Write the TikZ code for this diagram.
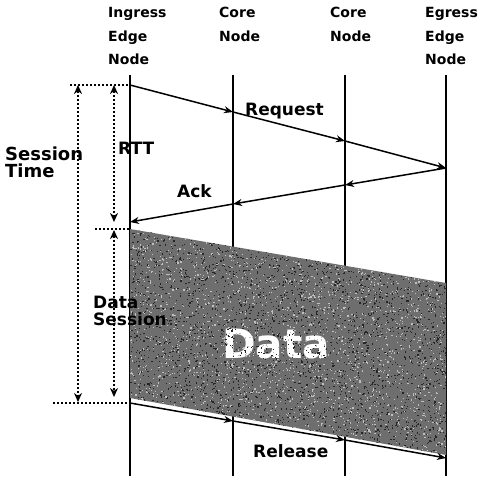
\documentclass[tikz,border=0pt]{standalone}
\usepackage{fontspec}
\setmainfont{DejaVu Sans}
\usetikzlibrary{arrows.meta}
\begin{document}
\begin{tikzpicture}[x=1pt,y=-1pt,
  hdr/.style={font=\bfseries\fontsize{14}{14}\selectfont,anchor=base west,inner sep=0pt},
  lbl/.style={font=\bfseries\fontsize{17}{17}\selectfont,anchor=base west,inner sep=0pt},
  life/.style={line width=1.4pt},
  msg/.style={line width=1.5pt,-{Stealth[length=9pt,width=7pt]}},
  dots/.style={line width=2pt,dash pattern=on 2pt off 2pt},
  dimarr/.style={dots,{Stealth[length=9pt,width=8pt]}-{Stealth[length=9pt,width=8pt]}}]
\useasboundingbox (0,0) rectangle (478,476);

% node lifelines
\foreach \n/\x in {ing/130,ca/233,cb/345,eg/446}{
  \coordinate (\n-t) at (\x,75);
  \coordinate (\n-b) at (\x,476);
  \draw[life] (\n-t) -- (\n-b);
}

% headings
\node[hdr] (h1a) at (108,18) {Ingress};
\node[hdr] (h1b) at (108,42) {Edge};
\node[hdr] (h1c) at (108,65) {Node};
\node[hdr] (h2a) at (219,18) {Core};
\node[hdr] (h2b) at (219,42) {Node};
\node[hdr] (h3a) at (330,18) {Core};
\node[hdr] (h3b) at (330,42) {Node};
\node[hdr] (h4a) at (425,18) {Egress};
\node[hdr] (h4b) at (425,42) {Edge};
\node[hdr] (h4c) at (425,65) {Node};

% data session block, with a grainy texture over fill and caption
\coordinate (d1) at (130,229);
\coordinate (d2) at (446,283);
\coordinate (d3) at (446,455);
\coordinate (d4) at (130,398);
\fill[black!57] (d1) -- (d2) -- (d3) -- (d4) -- cycle;
\node[anchor=base west,inner sep=0pt,text=white,font=\bfseries\fontsize{40.5}{41}\selectfont] (data) at (222,358) {Data};
\begin{scope}
  \clip (d1) -- (d2) -- (d3) -- (d4) -- cycle;
  \pgfmathsetseed{4321}
  \foreach \i in {1,...,2600}{
    \pgfmathsetmacro{\xx}{130+316*rnd}
    \pgfmathsetmacro{\yy}{229+226*rnd}
    \fill[black!25] (\xx,\yy) rectangle ++(1.2,1.2);
  }
  \foreach \i in {1,...,3200}{
    \pgfmathsetmacro{\xx}{130+316*rnd}
    \pgfmathsetmacro{\yy}{229+226*rnd}
    \fill[black!85] (\xx,\yy) rectangle ++(1.2,1.2);
  }
\end{scope}

% request
\coordinate (r0) at (130,85);
\coordinate (r1) at (233,112);
\coordinate (r2) at (345,141);
\coordinate (r3) at (446,168);
\draw[msg] (r0) -- (r1);
\draw[msg] (r1) -- (r2);
\draw[msg] (r2) -- (r3);

% ack
\coordinate (a1) at (345,185);
\coordinate (a2) at (233,204);
\coordinate (a3) at (130,222);
\draw[msg] (r3) -- (a1);
\draw[msg] (a1) -- (a2);
\draw[msg] (a2) -- (a3);

% release
\coordinate (l0) at (130,403);
\coordinate (l1) at (233,421);
\coordinate (l2) at (345,440);
\coordinate (l3) at (446,458);
\draw[msg] (l0) -- (l1);
\draw[msg] (l1) -- (l2);
\draw[msg] (l2) -- (l3);

% dimension guides
\coordinate (st-l) at (70,85);
\coordinate (sb-l) at (53,403);
\coordinate (ds-l) at (95,229);
\draw[dots] (st-l) -- (r0);
\draw[dots] (sb-l) -- (l0);
\draw[dots] (ds-l) -- (d1);
\coordinate (s-top) at (78,85);
\coordinate (s-bot) at (78,402);
\coordinate (rtt-top) at (114,85);
\coordinate (rtt-bot) at (114,222);
\coordinate (dat-top) at (114,230);
\coordinate (dat-bot) at (114,397);
\draw[dimarr] (s-top) -- (s-bot);
\draw[dimarr] (rtt-top) -- (rtt-bot);
\draw[dimarr] (dat-top) -- (dat-bot);

% labels
\node[lbl] (req) at (245,115) {Request};
\node[lbl] (ack) at (177,197) {Ack};
\node[lbl] (rtt) at (118,154) {RTT};
\node[lbl,font=\bfseries\fontsize{18}{18}\selectfont] (ses1) at (5,160) {Session};
\node[lbl,font=\bfseries\fontsize{18}{18}\selectfont] (ses2) at (5,177) {Time};
\node[lbl] (ds1) at (93,308) {Data};
\node[lbl] (ds2) at (93,325) {Session};
\node[lbl] (rel) at (253,457) {Release};
\end{tikzpicture}
\end{document}
